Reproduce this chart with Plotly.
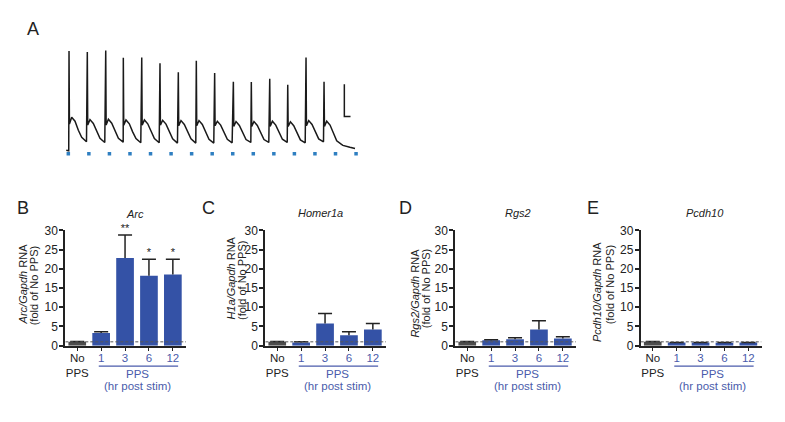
import plotly.graph_objects as go

# page body keeps an 8px margin, so the figure is 16px smaller than the window
PAGE_W, PAGE_H = 785, 422
OFF = 8
W, H = PAGE_W - 2 * OFF, PAGE_H - 2 * OFF
FONT = "Liberation Sans, Arial, sans-serif"
INK = "#222222"
BAR_BLUE = "#3452a6"
BAR_GRAY = "#4d4d4d"
TXT_BLUE = "#4a5bab"
STIM_BLUE = "#2f7fc1"

# ---------------- Panel A: evoked trace ----------------
stim_times_ms = [0, 50, 100, 150, 200, 250, 300, 350, 400, 450, 500, 550, 600, 650, 700]
stim_level_mv = -70.9
spike_times_ms = [1.7, 46.2, 91.0, 133.8, 178.6, 223.0, 267.6, 311.4, 356.0,
                  401.5, 445.2, 490.0, 533.8, 578.3, 622.1]
spike_peak_mv = [-39.0, -39.3, -38.8, -41.1, -41.0, -42.8, -45.6, -42.0, -45.8,
                 -48.5, -48.6, -47.6, -49.5, -41.0, -48.5]
dip_mv = [-61.7, -62.0, -62.0, -62.0, -62.0, -62.0, -62.2, -62.2, -62.2,
          -62.4, -62.4, -62.4, -62.4, -62.2, -62.4]
hump_mv = [-59.6, -60.3, -60.2, -60.4, -60.4, -60.5, -60.6, -60.6, -60.8,
           -60.9, -60.9, -60.8, -61.0, -60.6, -60.8]
shoulder_mv = [-60.8, -61.5, -61.4, -61.6, -61.6, -61.7, -61.8, -61.8, -62.0,
               -62.1, -62.1, -62.0, -62.2, -61.8, -62.0]
mid_mv = [-63.6, -64.0, -64.0, -64.1, -64.1, -64.2, -64.2, -64.3, -64.4,
          -64.5, -64.5, -64.4, -64.6, -64.2, -64.6]
late_mv = [-65.8, -66.1, -66.1, -66.2, -66.2, -66.3, -66.3, -66.4, -66.4,
           -66.5, -66.5, -66.4, -66.6, -66.3, -66.9]
trough_mv = [-67.2, -67.4, -67.3, -67.5, -67.5, -67.6, -67.6, -67.6, -67.5,
             -67.4, -67.4, -67.4, -67.5, -67.2, -68.0]
# offsets (ms) of the sampled points after each spike
feature_offsets_ms = [0.0, 1.0, 6.5, 14.6, 22.7, 30.8, 42.5]
start_t_ms = [-5.0, 1.0]
start_mv = [-69.8, -70.0]
tail_t_ms = [668.0, 685.0, 697.5]
tail_mv = [-68.3, -68.9, -69.3]
scale_bar_mv = 10
scale_bar_ms = 15
scale_bar_origin = (671.5, -59.3)

# ---------------- Panels B-E: qPCR bars ----------------
categories = ["No<br>PPS", "1", "3", "6", "12"]
cat_is_pps = [False, True, True, True, True]
genes = ["Arc", "Homer1a", "Rgs2", "Pcdh10"]
ylabels = ["Arc/Gapdh", "H1a/Gapdh", "Rgs2/Gapdh", "Pcdh10/Gapdh"]
panel_letters = ["B", "C", "D", "E"]

arc_mean = [1.0, 3.3, 22.8, 18.2, 18.5]
arc_err = [0.1, 0.3, 6.0, 4.3, 4.0]
arc_sig = ["", "", "**", "*", "*"]

homer1a_mean = [1.0, 0.85, 5.8, 2.7, 4.2]
homer1a_err = [0.1, 0.15, 2.6, 0.9, 1.6]
homer1a_sig = ["", "", "", "", ""]

rgs2_mean = [1.0, 1.4, 1.7, 4.2, 1.9]
rgs2_err = [0.1, 0.15, 0.35, 2.3, 0.4]
rgs2_sig = ["", "", "", "", ""]

pcdh10_mean = [1.0, 0.8, 0.8, 0.75, 0.8]
pcdh10_err = [0.1, 0.05, 0.05, 0.05, 0.05]
pcdh10_sig = ["", "", "", "", ""]

means = [arc_mean, homer1a_mean, rgs2_mean, pcdh10_mean]
errs = [arc_err, homer1a_err, rgs2_err, pcdh10_err]
sigs = [arc_sig, homer1a_sig, rgs2_sig, pcdh10_sig]
baseline_fold = 1.0
y_ticks = [0, 5, 10, 15, 20, 25, 30]


def fx(px):
    return (px - OFF) / W


def fy(py):
    return 1 - (py - OFF) / H


fig = go.Figure()

# ---- build trace A from the sampled features ----
t_all = list(start_t_ms)
v_all = list(start_mv)
for i, ts in enumerate(spike_times_ms):
    levels = [spike_peak_mv[i], dip_mv[i], hump_mv[i], shoulder_mv[i],
              mid_mv[i], late_mv[i], trough_mv[i]]
    for off, lv in zip(feature_offsets_ms, levels):
        t_all.append(ts + off)
        v_all.append(lv)
t_all += tail_t_ms
v_all += tail_mv

fig.add_trace(go.Scatter(x=t_all, y=v_all, mode="lines",
                         line=dict(color="#1a1a1a", width=1.5),
                         xaxis="x", yaxis="y", showlegend=False, hoverinfo="skip"))
fig.add_trace(go.Scatter(x=stim_times_ms, y=[stim_level_mv] * len(stim_times_ms),
                         mode="markers",
                         marker=dict(symbol="square", size=3.5, color=STIM_BLUE),
                         xaxis="x", yaxis="y", showlegend=False, hoverinfo="skip"))
sx0, sy0 = scale_bar_origin
fig.add_trace(go.Scatter(x=[sx0, sx0, sx0 + scale_bar_ms],
                         y=[sy0 + scale_bar_mv, sy0, sy0],
                         mode="lines", line=dict(color="#1a1a1a", width=1.5),
                         xaxis="x", yaxis="y", showlegend=False, hoverinfo="skip"))

layout = dict(
    width=W, height=H,
    margin=dict(l=0, r=0, t=0, b=0),
    paper_bgcolor="white", plot_bgcolor="white",
    font=dict(family=FONT, size=11, color=INK),
    showlegend=False,
    xaxis=dict(domain=[fx(60.1), fx(372.5)], range=[-20, 740], visible=False,
               fixedrange=True),
    yaxis=dict(domain=[fy(157.0), fy(38.7)], range=[-72.5, -37.0], visible=False,
               fixedrange=True),
)

annotations = [dict(text="A", x=fx(33), y=fy(23), xref="paper", yref="paper",
                    showarrow=False, font=dict(size=18, color=INK),
                    xanchor="center", yanchor="middle")]
shapes = []

# panel geometry (page px)
x_left = [65.3, 265.3, 455.3, 640.8]
x_width = 120.7
y_top, y_bot = 231.0, 350.5
letter_pos = [(23, 208), (208.3, 208), (405, 208), (593, 208)]
gene_pos = [(135, 214), (320, 213), (518, 213), (705, 213)]
ytitle1 = [(23.0, 287), (231.0, 281), (415.5, 296), (597.0, 295)]
ytitle2 = [(34.0, 289), (241.5, 283), (426.0, 292), (609.5, 287.5)]

xcat = list(range(len(categories)))
ticktext = [c if not p else "<span style='color:%s'>%s</span>" % (TXT_BLUE, c)
            for c, p in zip(categories, cat_is_pps)]
bar_colors = [BAR_BLUE if p else BAR_GRAY for p in cat_is_pps]

for k in range(4):
    n = k + 2
    xa, ya = "x%d" % n, "y%d" % n
    mean, err, sig = means[k], errs[k], sigs[k]
    fig.add_trace(go.Bar(x=xcat, y=mean, width=0.74,
                         marker=dict(color=bar_colors, line=dict(width=0)),
                         error_y=dict(type="data", array=err,
                                      arrayminus=[0] * len(err), symmetric=False,
                                      color=INK, thickness=1.5, width=0),
                         xaxis=xa, yaxis=ya, showlegend=False, hoverinfo="skip"))
    tops = [m + e for m, e in zip(mean, err)]
    fig.add_trace(go.Scatter(x=xcat, y=tops, mode="markers",
                             marker=dict(symbol="line-ew", size=10,
                                         line=dict(color=INK, width=1.5)),
                             xaxis=xa, yaxis=ya, showlegend=False, hoverinfo="skip"))
    fig.add_trace(go.Scatter(x=[-0.5, 4.55], y=[baseline_fold, baseline_fold],
                             mode="lines",
                             line=dict(color="#555555", width=1, dash="3px,2px"),
                             xaxis=xa, yaxis=ya, showlegend=False, hoverinfo="skip"))
    if any(sig):
        fig.add_trace(go.Scatter(x=xcat, y=tops, mode="text", text=sig,
                                 textposition="top center", cliponaxis=False,
                                 textfont=dict(size=11, color=INK),
                                 xaxis=xa, yaxis=ya, showlegend=False,
                                 hoverinfo="skip"))

    layout["xaxis%d" % n] = dict(
        domain=[fx(x_left[k]), fx(x_left[k] + x_width)], range=[-0.5, 4.55],
        anchor=ya, showline=True, linecolor=INK, linewidth=2,
        ticks="outside", ticklen=3, tickwidth=1.2, tickcolor=INK,
        tickvals=xcat, ticktext=ticktext, showgrid=False, zeroline=False,
        ticklabelstandoff=-2,
        tickfont=dict(size=11.5, color=INK), fixedrange=True)
    layout["yaxis%d" % n] = dict(
        domain=[fy(y_bot), fy(y_top)], range=[0, 30], anchor=xa,
        showline=True, linecolor=INK, linewidth=2,
        ticks="outside", ticklen=4, tickwidth=1.5, tickcolor=INK,
        tickvals=y_ticks, showgrid=False, zeroline=False,
        ticklabelstandoff=-1,
        tickfont=dict(size=12, color=INK), fixedrange=True)

    lx, ly = letter_pos[k]
    annotations.append(dict(text=panel_letters[k], x=fx(lx), y=fy(ly),
                            xref="paper", yref="paper", showarrow=False,
                            font=dict(size=18, color=INK),
                            xanchor="center", yanchor="middle"))
    gx, gy = gene_pos[k]
    annotations.append(dict(text="<i>%s</i>" % genes[k], x=fx(gx), y=fy(gy),
                            xref="paper", yref="paper", showarrow=False,
                            font=dict(size=11, color=INK),
                            xanchor="center", yanchor="middle"))
    t1x, t1y = ytitle1[k]
    annotations.append(dict(text="<i>%s</i> RNA" % ylabels[k], x=fx(t1x), y=fy(t1y),
                            xref="paper", yref="paper", showarrow=False,
                            textangle=-90, font=dict(size=11, color=INK),
                            xanchor="center", yanchor="middle"))
    t2x, t2y = ytitle2[k]
    annotations.append(dict(text="(fold of No PPS)", x=fx(t2x), y=fy(t2y),
                            xref="paper", yref="paper", showarrow=False,
                            textangle=-90, font=dict(size=11, color=INK),
                            xanchor="center", yanchor="middle"))
    # PPS grouping line and labels
    shapes.append(dict(type="line", xref=xa, yref="paper", x0=0.9, x1=4.22,
                       y0=fy(371.7), y1=fy(371.7),
                       line=dict(color=TXT_BLUE, width=1.2)))
    annotations.append(dict(text="PPS", x=2.5, y=fy(379.5), xref=xa, yref="paper",
                            showarrow=False, font=dict(size=11.5, color=TXT_BLUE),
                            xanchor="center", yanchor="middle"))
    annotations.append(dict(text="(hr post stim)", x=2.5, y=fy(392), xref=xa,
                            yref="paper", showarrow=False,
                            font=dict(size=11.5, color=TXT_BLUE),
                            xanchor="center", yanchor="middle"))

layout["annotations"] = annotations
layout["shapes"] = shapes
fig.update_layout(**layout)
fig.write_html("out.html")
